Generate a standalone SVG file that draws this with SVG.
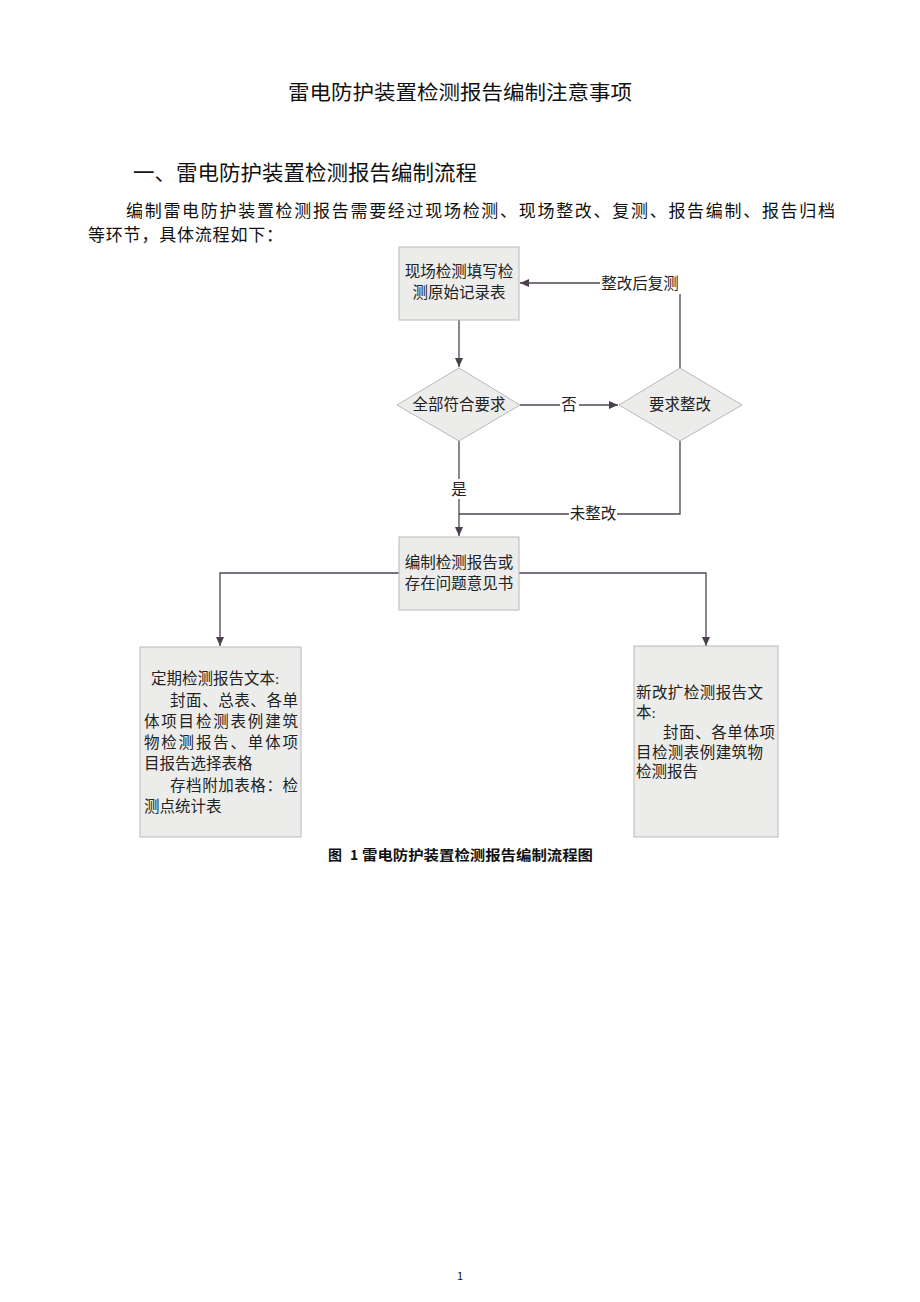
<svg xmlns="http://www.w3.org/2000/svg" width="920" height="1302" viewBox="0 0 920 1302">
<defs>
<marker id="arr" markerWidth="9" markerHeight="8" refX="9" refY="4" orient="auto" markerUnits="userSpaceOnUse">
<path d="M0,0 L9,4 L0,8 Z" fill="#4a3f4c"/>
</marker>
</defs>
<style>
.doc{font-family:"Liberation Serif","Noto Sans CJK SC",serif;fill:#111;}
.hd{font-family:"Noto Sans CJK SC","Liberation Sans",sans-serif;fill:#111;}
.node{fill:#ecedeb;stroke:#b8b8b8;stroke-width:1;}
.nt{font-family:"Liberation Serif","Noto Sans CJK SC",serif;font-size:15.5px;fill:#222;}
.cn{fill:none;stroke:#4f4454;stroke-width:1.3;}
.lb{font-family:"Liberation Serif","Noto Sans CJK SC",serif;font-size:15.5px;fill:#222;text-anchor:middle;}
.bg{fill:#ffffff;stroke:none;}
</style>
<rect width="920" height="1302" fill="#ffffff"/>

<text class="hd" x="460" y="100" font-size="20" text-anchor="middle" textLength="344" lengthAdjust="spacingAndGlyphs">雷电防护装置检测报告编制注意事项</text>
<text class="hd" x="133" y="180" font-size="21" textLength="344" lengthAdjust="spacingAndGlyphs">一、雷电防护装置检测报告编制流程</text>
<text class="doc" x="126" y="217" font-size="17" textLength="709" lengthAdjust="spacing">编制雷电防护装置检测报告需要经过现场检测、现场整改、复测、报告编制、报告归档</text>
<text class="doc" x="88" y="241" font-size="17" textLength="195" lengthAdjust="spacing">等环节，具体流程如下：</text>

<g id="connectors">
<path class="cn" d="M459,320 L459,367" marker-end="url(#arr)"/>
<path class="cn" d="M520,405 L618,405" marker-end="url(#arr)"/>
<rect class="bg" x="560" y="395" width="19" height="20"/>
<text class="lb" x="569" y="410">否</text>
<path class="cn" d="M680,368 L680,283 L520,283" marker-end="url(#arr)"/>
<rect class="bg" x="600" y="272" width="83" height="22"/>
<text class="lb" x="640" y="289">整改后复测</text>
<path class="cn" d="M459,441 L459,536" marker-end="url(#arr)"/>
<rect class="bg" x="450" y="479" width="18" height="20"/>
<text class="lb" x="459" y="495">是</text>
<path class="cn" d="M680,441 L680,514 L459,514"/>
<rect class="bg" x="569" y="504" width="48" height="20"/>
<text class="lb" x="593" y="519">未整改</text>
<path class="cn" d="M399,573 L220,573 L220,646" marker-end="url(#arr)"/>
<path class="cn" d="M519,573 L706,573 L706,646" marker-end="url(#arr)"/>
</g>

<g id="node-record">
<rect class="node" x="399" y="247" width="120" height="73"/>
<text class="nt" x="459" y="277" text-anchor="middle">现场检测填写检</text>
<text class="nt" x="459" y="298" text-anchor="middle">测原始记录表</text>
</g>

<g id="node-check">
<polygon class="node" points="459,368 520,405 459,441 397,405"/>
<text class="nt" x="459" y="410" text-anchor="middle">全部符合要求</text>
</g>

<g id="node-rectify">
<polygon class="node" points="680,368 742,405 680,441 619,405"/>
<text class="nt" x="680" y="410" text-anchor="middle">要求整改</text>
</g>

<g id="node-report">
<rect class="node" x="399" y="537" width="120" height="73"/>
<text class="nt" x="459" y="568" text-anchor="middle">编制检测报告或</text>
<text class="nt" x="459" y="589" text-anchor="middle">存在问题意见书</text>
</g>

<g id="node-periodic">
<rect class="node" x="140" y="647" width="161" height="190"/>
<text class="nt" x="151" y="684">定期检测报告文本:</text>
<text class="nt" x="170" y="706" textLength="128" lengthAdjust="spacing">封面、总表、各单</text>
<text class="nt" x="144" y="727" textLength="154" lengthAdjust="spacing">体项目检测表例建筑</text>
<text class="nt" x="144" y="748" textLength="154" lengthAdjust="spacing">物检测报告、单体项</text>
<text class="nt" x="144" y="769">目报告选择表格</text>
<text class="nt" x="170" y="791" textLength="128" lengthAdjust="spacing">存档附加表格：检</text>
<text class="nt" x="144" y="812">测点统计表</text>
</g>

<g id="node-new">
<rect class="node" x="634" y="646" width="144" height="191"/>
<text class="nt" x="636" y="698" textLength="127" lengthAdjust="spacing">新改扩检测报告文</text>
<text class="nt" x="636" y="718">本:</text>
<text class="nt" x="663" y="738" textLength="112" lengthAdjust="spacing">封面、各单体项</text>
<text class="nt" x="636" y="758" textLength="127" lengthAdjust="spacing">目检测表例建筑物</text>
<text class="nt" x="636" y="777">检测报告</text>
</g>

<text class="hd" x="328" y="860" font-size="14" font-weight="bold">图</text>
<text class="hd" x="350" y="860" font-size="14" font-weight="bold">1</text>
<text class="hd" x="362" y="860" font-size="14" font-weight="bold" textLength="231" lengthAdjust="spacingAndGlyphs">雷电防护装置检测报告编制流程图</text>

<text class="hd" x="460" y="1280" font-size="11" text-anchor="middle">1</text>
</svg>
